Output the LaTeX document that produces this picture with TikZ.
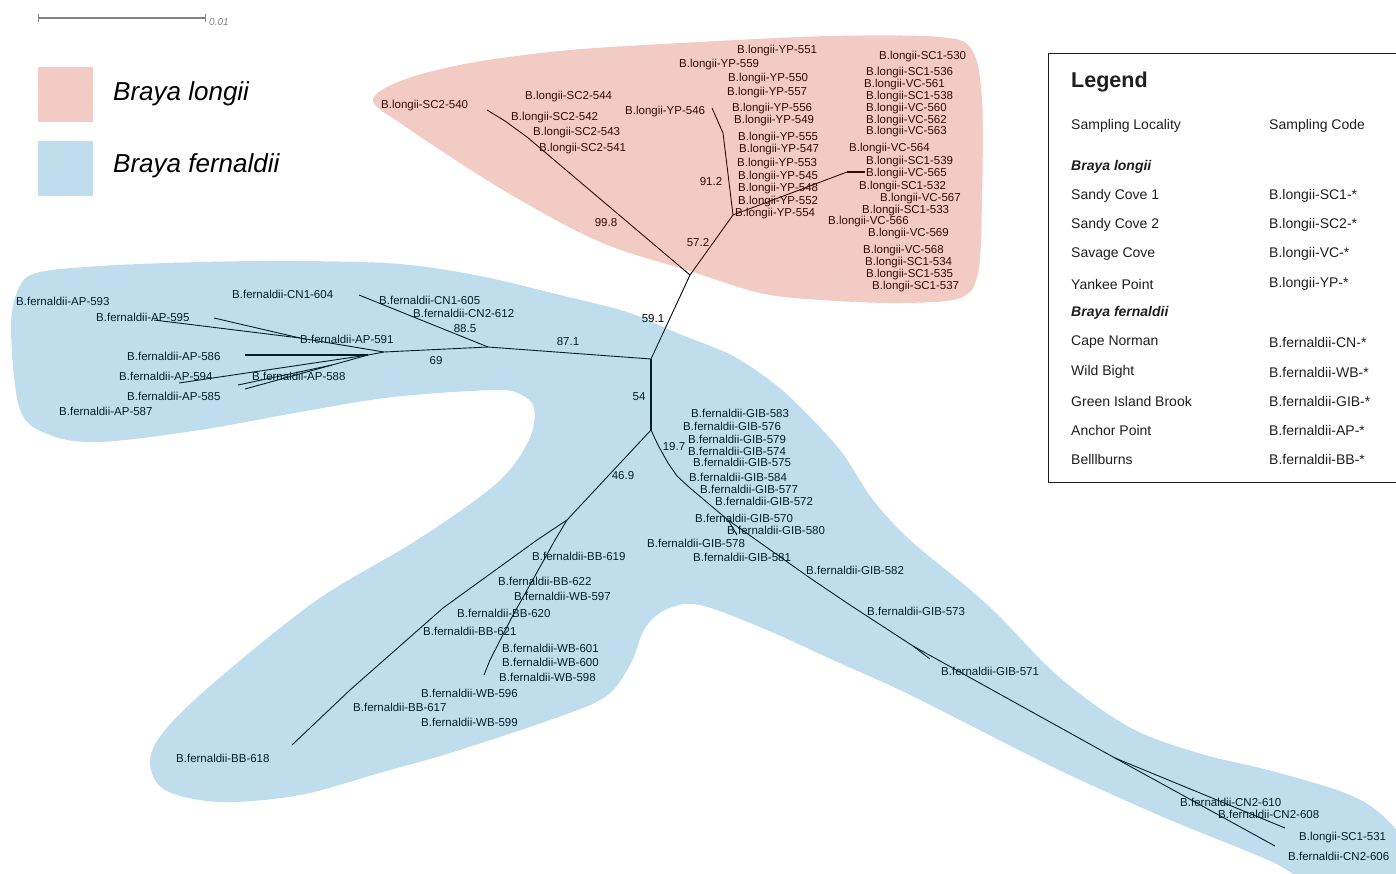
\documentclass[tikz,border=0pt]{standalone}
\usepackage{fontspec}
\setmainfont{Liberation Sans}
\definecolor{lonTint}{RGB}{203,47,23}
\definecolor{ferTint}{RGB}{3,119,183}
\definecolor{barGray}{RGB}{130,130,130}
\definecolor{legInk}{RGB}{30,30,30}
\tikzset{
  tiplabel/.style={anchor=west, inner sep=0pt, font=\fontsize{11.5}{12}\selectfont},
  boot/.style={inner sep=0pt, font=\fontsize{11.5}{12}\selectfont},
  branch/.style={line width=0.9pt, line join=round},
  lonblob/.style={fill=lonTint, fill opacity=0.25},
  ferblob/.style={fill=ferTint, fill opacity=0.25},
  legtext/.style={anchor=west, inner sep=0pt, text=legInk, font=\fontsize{14}{16}\selectfont},
}
\begin{document}
\begin{tikzpicture}[x=1pt,y=-1pt]
\useasboundingbox (0,0) rectangle (1396,873);

% scale bar
\coordinate (bar0) at (38,18);
\coordinate (bar1) at (206,18);
\draw[barGray, line width=1.2pt, |-|] (bar0) -- (bar1);
\node[anchor=base west, inner sep=0pt, text=barGray, font=\itshape\fontsize{10}{11}\selectfont] (barlab) at (209,25) {0.01};

% inner nodes of the tree
\coordinate (nA) at (690,275);
\coordinate (nB) at (651,359);
\coordinate (nC) at (651,430);
\coordinate (nD) at (488,347);
\coordinate (nE) at (384,352);
\coordinate (nE1) at (300,338);
\coordinate (nE2) at (368,355);
\coordinate (nE3) at (332,365);
\coordinate (nF) at (567,520);
\coordinate (nY) at (733,215);
\coordinate (nV) at (847,172);
\coordinate (nG1) at (728,520);
\coordinate (nG2) at (913,646);
\coordinate (nG3) at (1115,758);
% free ends
\coordinate (tSC2) at (487,110);
\coordinate (t546) at (712,108);
\coordinate (t565) at (865,172);
\coordinate (t604) at (359,295);
\coordinate (t595a) at (214,318);
\coordinate (t595b) at (154,320);
\coordinate (t586) at (245,355);
\coordinate (t594) at (179,383);
\coordinate (t588a) at (238,385);
\coordinate (t588b) at (245,389);
\coordinate (t618) at (292,745);
\coordinate (t598) at (484,675);
\coordinate (t580) at (737,535);
\coordinate (t571) at (930,659);
\coordinate (t608) at (1285,828);
\coordinate (t606) at (1275,846);

% branches
\draw[branch] (nA) -- (nB) -- (nD) -- (nE) -- (nE2);
\draw[branch, line width=2pt] (nB) -- (nC);
\draw[branch] (nC) -- (nF);
\draw[branch] (nA) -- (nY);
\draw[branch] (nA) -- (527,137) -- (505,121) -- (tSC2);
\draw[branch] (nY) -- (723,133) -- (t546);
\draw[branch] (nY) -- (nV);
\draw[branch, line width=1.6pt] (nV) -- (t565);
\draw[branch] (nD) -- (t604);
\draw[branch] (nE) -- (nE1) -- (t595a);
\draw[branch] (nE1) -- (t595b);
\draw[branch, line width=2pt] (nE2) -- (t586);
\draw[branch] (nE2) -- (t594);
\draw[branch] (nE2) -- (nE3) -- (t588a);
\draw[branch] (nE3) -- (t588b);
\draw[branch] (nF) -- (537,540) -- (443,608) -- (350,690) -- (t618);
\draw[branch] (nF) -- (555,540) -- (512,617) -- (490,660) -- (t598);
\draw[branch] (nC) -- (658,445) -- (668,463) -- (677,476) -- (690,488) -- (nG1)
  -- (810,578) -- (850,605) -- (nG2) -- (nG3);
\draw[branch] (nG1) -- (t580);
\draw[branch] (nG2) -- (t571);
\draw[branch] (nG3) -- (t608);
\draw[branch] (nG3) -- (t606);

% bootstrap values
\node[boot] (b998) at (606,223) {99.8};
\node[boot] (b572) at (698,243) {57.2};
\node[boot] (b912) at (711,182) {91.2};
\node[boot] (b591) at (653,319) {59.1};
\node[boot] (b871) at (568,342) {87.1};
\node[boot] (b885) at (465,329) {88.5};
\node[boot] (b69) at (436,361) {69};
\node[boot] (b54) at (639,397) {54};
\node[boot] (b197) at (674,447) {19.7};
\node[boot] (b469) at (623,476) {46.9};

% tips
\foreach \px/\py/\code in {381/106/SC2-540, 525/97/SC2-544, 511/118/SC2-542,
  533/133/SC2-543, 539/149/SC2-541, 625/112/YP-546, 737/51/YP-551, 679/65/YP-559,
  728/79/YP-550, 727/93/YP-557, 732/109/YP-556, 734/121/YP-549, 738/138/YP-555,
  739/150/YP-547, 737/164/YP-553, 738/177/YP-545, 738/189/YP-548, 738/202/YP-552,
  735/214/YP-554, 879/57/SC1-530, 866/73/SC1-536, 864/85/VC-561, 866/97/SC1-538,
  866/109/VC-560, 866/121/VC-562, 866/132/VC-563, 849/149/VC-564, 866/162/SC1-539,
  866/174/VC-565, 859/187/SC1-532, 880/199/VC-567, 862/211/SC1-533, 828/222/VC-566,
  868/234/VC-569, 863/251/VC-568, 865/263/SC1-534, 866/275/SC1-535, 872/287/SC1-537,
  1299/838/SC1-531}
  \node[tiplabel] (\code) at (\px,\py) {B.longii-\code};
\foreach \px/\py/\code in {16/301/AP-593, 96/317/AP-595, 232/294/CN1-604,
  379/300/CN1-605, 413/313/CN2-612, 300/339/AP-591, 127/356/AP-586, 119/376/AP-594,
  252/376/AP-588, 127/396/AP-585, 59/411/AP-587, 691/413/GIB-583, 683/426/GIB-576,
  688/439/GIB-579, 688/451/GIB-574, 693/462/GIB-575, 689/477/GIB-584, 700/489/GIB-577,
  715/501/GIB-572, 695/518/GIB-570, 727/530/GIB-580, 647/543/GIB-578, 693/557/GIB-581,
  806/570/GIB-582, 867/611/GIB-573, 941/671/GIB-571, 532/556/BB-619, 498/581/BB-622,
  514/596/WB-597, 457/613/BB-620, 423/631/BB-621, 502/648/WB-601, 502/662/WB-600,
  499/677/WB-598, 421/693/WB-596, 353/707/BB-617, 421/722/WB-599, 176/758/BB-618,
  1180/802/CN2-610, 1218/814/CN2-608, 1288/856/CN2-606}
  \node[tiplabel] (\code) at (\px,\py) {B.fernaldii-\code};

% species outlines
\fill[lonblob] plot[smooth cycle, tension=0.55] coordinates {
  (373,100) (403,80) (470,63) (570,50) (700,42) (830,36) (940,37) (972,50)
  (982,100) (982,200) (978,273) (960,298) (900,303) (820,300) (760,293)
  (690,271) (600,242) (503,190) (403,125)};
\fill[ferblob] plot[smooth cycle, tension=0.55] coordinates {
  (36,273) (100,266) (200,262) (300,261) (400,264) (480,276) (560,295)
  (627,312) (677,333) (727,353) (760,373) (793,400) (840,450) (873,500)
  (910,540) (967,587) (1000,617) (1059,677) (1129,727) (1198,753) (1268,770)
  (1337,790) (1372,807) (1400,835) (1420,880) (1330,890) (1268,860) (1163,817)
  (1059,770) (954,717) (900,690) (833,660) (767,630) (700,605) (667,609)
  (645,628) (630,665) (605,697) (550,720) (450,753) (383,772) (300,795)
  (220,802) (165,790) (150,762) (165,730) (217,680) (317,600) (417,540)
  (497,483) (529,440) (534,408) (520,394) (493,390) (393,397) (300,412)
  (200,430) (100,442) (50,435) (20,410) (11,330) (18,290)};

% species key
\fill[lonblob] (38,67) rectangle (93,122);
\fill[ferblob] (38,141) rectangle (93,196);
\node[anchor=west, inner sep=0pt, font=\itshape\fontsize{26}{28}\selectfont] (keyL) at (113,94) {Braya longii};
\node[anchor=west, inner sep=0pt, font=\itshape\fontsize{26}{28}\selectfont] (keyF) at (113,166) {Braya fernaldii};

% legend box
\draw[legInk, line width=1pt] (1400,53) -- (1048,53) -- (1048,482) -- (1400,482);
\node[legtext, font=\bfseries\fontsize{21.5}{24}\selectfont] (legtitle) at (1071,82) {Legend};
\node[legtext] (hdloc) at (1071,126) {Sampling Locality};
\node[legtext] (hdcode) at (1269,126) {Sampling Code};
\node[legtext, font=\bfseries\itshape\fontsize{14}{16}\selectfont] (grpL) at (1071,167) {Braya longii};
\node[legtext, font=\bfseries\itshape\fontsize{14}{16}\selectfont] (grpF) at (1071,313) {Braya fernaldii};
\foreach \yy/\loc/\code in {196/Sandy Cove 1/B.longii-SC1-*, 225/Sandy Cove 2/B.longii-SC2-*,
  254/Savage Cove/B.longii-VC-*, 284/Yankee Point/B.longii-YP-*,
  342/Cape Norman/B.fernaldii-CN-*, 372/Wild Bight/B.fernaldii-WB-*,
  401/Green Island Brook/B.fernaldii-GIB-*, 430/Anchor Point/B.fernaldii-AP-*,
  459/Belllburns/B.fernaldii-BB-*}{
  \node[legtext] (loc\yy) at (1071,\yy) {\loc};
  \node[legtext] (code\yy) at (1269,\yy) {\code};
}
\end{tikzpicture}
\end{document}
